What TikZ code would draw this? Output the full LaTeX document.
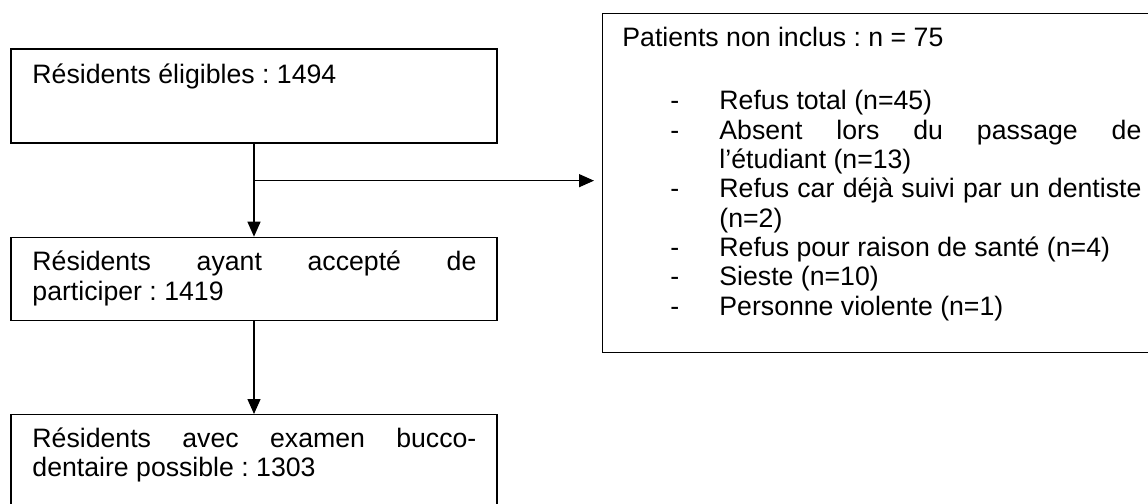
\documentclass[tikz,border=0pt]{standalone}
\usepackage{fontspec}
\setmainfont{Liberation Sans}
\usepackage{tikz}
\usetikzlibrary{arrows.meta}
\usetikzlibrary{positioning}

\newcommand{\flowfont}{\fontsize{12}{13.2}\selectfont\frenchspacing\hyphenpenalty=10000 \tolerance=10000 }
\newcommand{\tiret}[1]{\hangindent=22.05pt\hangafter=1\makebox[22.05pt][l]{-}#1\par\noindent}

\begin{document}
\begin{tikzpicture}[x=0.45pt, y=-0.45pt,
 block/.style = {draw, rectangle, line width=0.6pt, minimum width=218.7pt, inner sep=0pt},
 txt/.style = {anchor=base west, inner sep=0pt, font=\flowfont},
 jtxt/.style = {txt, align=justify, text width=#1},
 flow/.style = {line width=0.6pt, -{Triangle[length=6.75pt, width=5.85pt]}},
 node distance=41.85pt
 ]
    \useasboundingbox (0,0) rectangle (1148,504);

    \node [block, minimum height=42.3pt] (elig) at (254,96) {};
    \node [block, minimum height=37.35pt, below=of elig] (accept) {};
    \node [block, minimum height=49.5pt, below=of accept] (exam) {};
    \node [block, anchor=north west, minimum width=251.1pt, minimum height=152.55pt] (noninc) at (602,13) {};

    \node [txt] (eligText) at (32,84) {Résidents éligibles : 1494};
    \node [jtxt=199.8pt] (acceptText) at (32,271) {Résidents ayant accepté de\linebreak participer : 1419};
    \node [jtxt=199.8pt] (examText) at (32,447) {Résidents avec examen bucco-\linebreak dentaire possible : 1303};

    \node [txt] (nonincTitle) at (622,47) {Patients non inclus : n = 75};
    \node [jtxt=211.95pt] (motifs) at (670,110) {%
        \tiret{Refus total (n=45)}%
        \tiret{Absent lors du passage de\linebreak l’étudiant (n=13)}%
        \tiret{Refus car déjà suivi par un dentiste\linebreak (n=2)}%
        \tiret{Refus pour raison de santé (n=4)}%
        \tiret{Sieste (n=10)}%
        \tiret{Personne violente (n=1)}};

    \coordinate (split) at ([yshift=-16.65pt]elig.south);
    \draw [flow] (elig.south) -- (accept.north);
    \draw [flow, shorten >=3.6pt] (split) -- (split -| noninc.west);
    \draw [flow] (accept.south) -- (exam.north);

\end{tikzpicture}
\end{document}
